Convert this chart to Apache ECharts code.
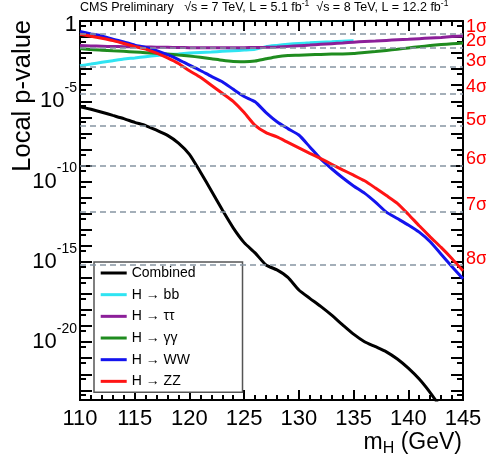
<!DOCTYPE html>
<html>
<head>
<meta charset="utf-8">
<script src="https://cdn.jsdelivr.net/npm/echarts@6/dist/echarts.min.js"></script>
<style>
  html, body { margin: 0; padding: 0; background: #ffffff; }
  #chart { width: 486px; height: 458px; }
</style>
</head>
<body>
<div id="chart"></div>
<script>
// Higgs mass hypotheses, GeV
const massPoints = [110, 111, 112, 113, 114, 115, 116, 117, 118, 119, 120, 121, 122, 123, 124, 125,
  126, 127, 128, 129, 130, 131, 132, 133, 134, 135, 136, 137, 138, 139, 140, 141, 142, 143, 144, 145];

// log10 of the local p-value for each decay channel, one entry per mass point
const combinedLog10p = [-5.34, -5.5, -5.68, -5.88, -6.08, -6.31, -6.51, -6.8, -7.12, -7.6, -8.3, -9.4,
  -10.57, -11.76, -12.88, -13.8, -14.44, -15.19, -15.5, -15.97, -16.75, -17.27, -17.77, -18.32,
  -18.92, -19.5, -19.97, -20.28, -20.6, -21.05, -21.62, -22.3, -23.14, -24.1];
const bbLog10p = [-2.79, -2.68, -2.57, -2.47, -2.37, -2.3, -2.22, -2.15, -2.1, -2.05, -2.0, -1.96,
  -1.93, -1.89, -1.85, -1.81, -1.76, -1.6, -1.52, -1.45, -1.4, -1.36, -1.32, -1.29, -1.26, -1.23];
const tautauLog10p = [-1.53, -1.55, -1.57, -1.59, -1.6, -1.61, -1.62, -1.63, -1.64, -1.65, -1.66, -1.66,
  -1.66, -1.66, -1.66, -1.66, -1.65, -1.64, -1.62, -1.58, -1.54, -1.5, -1.45, -1.41, -1.37, -1.32,
  -1.28, -1.25, -1.21, -1.17, -1.14, -1.1, -1.06, -1.02, -0.97, -0.93];
const gammagammaLog10p = [-1.71, -1.78, -1.82, -1.86, -1.89, -1.93, -1.97, -2.01, -2.06, -2.12, -2.18,
  -2.26, -2.35, -2.45, -2.52, -2.53, -2.49, -2.35, -2.22, -2.15, -2.13, -2.1, -2.08, -2.06, -2.05,
  -2.02, -1.96, -1.9, -1.83, -1.76, -1.68, -1.6, -1.53, -1.47, -1.42, -1.37];
const wwLog10p = [-0.65, -0.8, -0.93, -1.13, -1.3, -1.5, -1.65, -1.85, -2.1, -2.4, -2.75, -3.08, -3.45,
  -3.78, -4.25, -4.7, -5.03, -5.7, -6.27, -6.7, -7.1, -7.84, -8.59, -9.2, -9.76, -10.27, -10.72,
  -11.28, -11.9, -12.3, -12.7, -13.15, -13.75, -14.52, -15.3, -16.05];
const zzLog10p = [-0.82, -0.95, -1.08, -1.22, -1.4, -1.58, -1.75, -2.0, -2.3, -2.65, -3.1, -3.5, -4.0,
  -4.5, -5.0, -5.7, -6.5, -6.95, -7.22, -7.56, -7.9, -8.24, -8.57, -8.92, -9.27, -9.6, -9.95, -10.4,
  -10.87, -11.35, -12.03, -12.75, -13.44, -14.1, -14.8, -15.55];

// one-sided Gaussian tail probabilities for the n-sigma reference lines
const sigmaPValues = [0.158655, 0.0227501, 1.34990e-3, 3.16712e-5, 2.86652e-7, 9.86588e-10, 1.27981e-12, 6.22096e-16];
const sigmaLabels = ['1σ', '2σ', '3σ', '4σ', '5σ', '6σ', '7σ', '8σ'];

// labelled decades on the p-value axis, labelled masses on the mass axis
const yLabelValues = [1, 1e-5, 1e-10, 1e-15, 1e-20];
const xLabelValues = [110, 115, 120, 125, 130, 135, 140, 145];

const channelNames = ['Combined', 'H → bb', 'H → ττ', 'H → γγ', 'H → WW', 'H → ZZ'];
const channelColors = ['#000000', '#2fe4f2', '#8c1f99', '#1f8c1f', '#1414ee', '#ff1414'];
const channelValues = [combinedLog10p, bbLog10p, tautauLog10p, gammagammaLog10p, wwLog10p, zzLog10p];

const FONT = 'Liberation Sans';
const yMin = Math.pow(10, -23.6);
const yMax = 1;

// y tick marks: every decade, plus one at 5 x 10^(n-1)
const decadeTicks = [];
const halfTicks = [];
for (let e = 0; e >= -23; e--) {
  decadeTicks.push(Math.pow(10, e));
  halfTicks.push(5 * Math.pow(10, e - 1));
}

function toPoints(values) {
  return values.map((v, i) => [massPoints[i], Math.pow(10, v)]);
}

function yLabel(value) {
  const e = Math.round(Math.log10(value));
  if (e === 0) return '{one|1}';
  return '{b|10}{s|' + e + '}';
}

function frameLine() {
  return { show: true, onZero: false, lineStyle: { color: '#000000', width: 2 } };
}
function tickStyle() {
  return { color: '#000000', width: 2 };
}

function yFrameAxis(position, ticks, length, withLabels) {
  return {
    type: 'log', min: yMin, max: yMax, position: position, gridIndex: 0,
    axisLine: withLabels !== null ? frameLine() : { show: false, onZero: false },
    axisTick: { show: true, inside: true, length: length, customValues: ticks, lineStyle: tickStyle() },
    minorTick: { show: false },
    splitLine: { show: false },
    axisLabel: withLabels ? {
      show: true, customValues: yLabelValues, margin: 3, color: '#000', fontFamily: FONT,
      formatter: yLabel,
      rich: {
        one: { fontFamily: FONT, fontSize: 22, lineHeight: 22, padding: [8, 0, 0, 0], color: '#000' },
        b: { fontFamily: FONT, fontSize: 22, lineHeight: 22, color: '#000' },
        s: { fontFamily: FONT, fontSize: 14, lineHeight: 14, padding: [0, 0, 26, 0], color: '#000' }
      }
    } : { show: false }
  };
}

// mass axis carrying the data and the tick labels
const massAxis = {
  type: 'value', min: 110, max: 145, interval: 5, position: 'bottom', gridIndex: 0,
  axisLine: frameLine(),
  axisTick: { show: true, inside: true, length: 10, customValues: xLabelValues, lineStyle: tickStyle() },
  minorTick: { show: false },
  splitLine: { show: false },
  axisLabel: { show: true, customValues: xLabelValues, margin: 8, color: '#000', fontFamily: FONT, fontSize: 22 }
};

// frame edges with GeV tick marks, laid over the plot area
function tickFrameAxis(position) {
  return {
    type: 'value', min: 110, max: 145, interval: 5, position: position, gridIndex: 1,
    axisLine: frameLine(),
    axisTick: { show: true, inside: true, length: 10, lineStyle: tickStyle() },
    minorTick: { show: true, splitNumber: 5, length: 5, lineStyle: tickStyle() },
    splitLine: { show: false },
    axisLabel: { show: false }
  };
}

const series = channelNames.map((name, k) => ({
  name: name,
  type: 'line',
  xAxisIndex: 0,
  yAxisIndex: 0,
  data: toPoints(channelValues[k]),
  symbol: 'none',
  showSymbol: false,
  smooth: 0.2,
  lineStyle: { color: channelColors[k], width: 3 },
  itemStyle: { color: channelColors[k] }
}));

// dashed n-sigma reference lines with their labels on the right
series[0].markLine = {
  silent: true,
  symbol: ['none', 'none'],
  animation: false,
  precision: 20,
  lineStyle: { color: '#8795a3', type: [6, 4], width: 1.5 },
  label: {
    show: true,
    position: 'end',
    distance: 3,
    formatter: (p) => '{s|' + sigmaLabels[p.dataIndex] + '}',
    rich: { s: { fontFamily: FONT, fontSize: 18, lineHeight: 18, color: '#ff0000', padding: [0, 0, 13, 0] } }
  },
  data: sigmaPValues.map(p => ({ yAxis: p }))
};

const plotRect = { left: 80, right: 23, top: 21, bottom: 58, containLabel: false, outerBoundsMode: 'none' };

const option = {
  animation: false,
  backgroundColor: '#ffffff',
  title: {
    left: 80, top: 1, padding: 0,
    text: '{t|CMS Preliminary}{t|   √s = 7 TeV, L = 5.1 fb}{u|-1}{t|  √s = 8 TeV, L = 12.2 fb}{u|-1}',
    textStyle: {
      fontWeight: 'normal',
      rich: {
        t: { fontFamily: FONT, fontSize: 12.5, lineHeight: 13, fontWeight: 'normal', color: '#000' },
        u: { fontFamily: FONT, fontSize: 8.5, lineHeight: 9, fontWeight: 'normal', color: '#000', padding: [0, 0, 8, 0] }
      }
    }
  },
  grid: [Object.assign({}, plotRect), Object.assign({}, plotRect)],
  legend: {
    left: 94, top: 262, orient: 'vertical',
    data: channelNames,
    icon: 'rect',
    itemWidth: 26, itemHeight: 3, itemGap: 7.67,
    padding: [4, 47, 4, 6.7],
    backgroundColor: '#ffffff',
    borderColor: '#555555', borderWidth: 1.5,
    textStyle: { fontFamily: FONT, fontSize: 14, color: '#000' }
  },
  xAxis: [
    massAxis,
    tickFrameAxis('bottom'),
    tickFrameAxis('top'),
    {
      type: 'value', min: 0, max: 1, position: 'bottom', offset: 43, gridIndex: 0,
      axisLine: { show: false, onZero: false }, axisTick: { show: false }, axisLabel: { show: false }, splitLine: { show: false },
      name: '{a|m}{h|H}{a| (GeV)}', nameLocation: 'end', nameGap: -1,
      nameTextStyle: {
        align: 'right', verticalAlign: 'middle',
        rich: {
          a: { fontFamily: FONT, fontSize: 23, lineHeight: 23, color: '#000' },
          h: { fontFamily: FONT, fontSize: 16, lineHeight: 16, color: '#000', padding: [11, 0, 0, 0] }
        }
      }
    }
  ],
  yAxis: [
    yFrameAxis('left', decadeTicks, 12, true),
    yFrameAxis('left', halfTicks, 6, null),
    yFrameAxis('right', decadeTicks, 12, false),
    yFrameAxis('right', halfTicks, 6, null),
    {
      type: 'value', min: 0, max: 1, position: 'left', offset: 57, gridIndex: 0,
      axisLine: { show: false, onZero: false }, axisTick: { show: false }, axisLabel: { show: false }, splitLine: { show: false },
      name: 'Local p-value', nameLocation: 'end', nameGap: 1, nameRotate: 90,
      nameTextStyle: { fontFamily: FONT, fontSize: 25.5, color: '#000', align: 'right', verticalAlign: 'middle' }
    },
    {
      type: 'value', min: 0, max: 1, position: 'left', gridIndex: 1, show: false,
      axisLine: { show: false, onZero: false }, splitLine: { show: false }
    }
  ],
  series: series
};

const chart = echarts.init(document.getElementById('chart'), null, { renderer: 'canvas' });
chart.setOption(option);
</script>
</body>
</html>
